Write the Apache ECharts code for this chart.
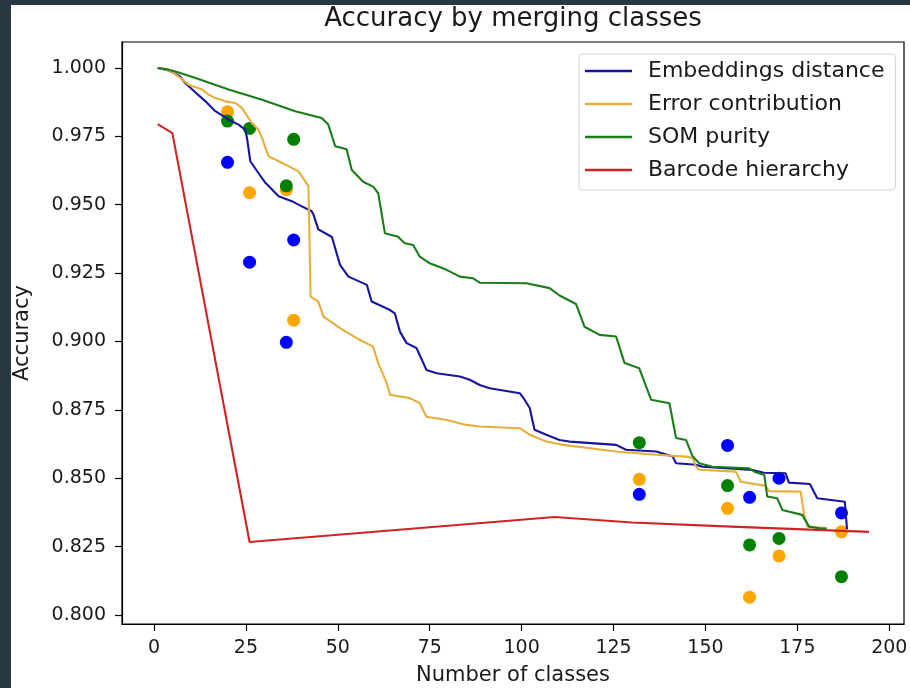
<!DOCTYPE html>
<html>
<head>
<meta charset="utf-8">
<script src="https://cdn.jsdelivr.net/npm/echarts@6/dist/echarts.min.js"></script>
<style>
  html, body { margin: 0; padding: 0; background: #283842; }
  #frame { position: relative; width: 910px; height: 688px; background: #283842; overflow: hidden; }
  #myChart { position: absolute; left: 11px; top: 5px; width: 899px; height: 683px; background: #fff; }
</style>
</head>
<body>
<div id="frame"><div id="myChart"></div></div>
<script>
// tick labels
var xTicks = [0, 25, 50, 75, 100, 125, 150, 175, 200];
var yTicks = [0.8, 0.825, 0.85, 0.875, 0.9, 0.925, 0.95, 0.975, 1.0];

// Embeddings distance (line)
var embedX = [1, 3, 5, 7, 8.5, 10.4, 14, 16.7, 20.3, 23, 24.8, 25.3, 26.2, 28.4, 30.3, 33.9, 37.5, 40.2, 42.9, 43.4, 44.7, 48.4, 50.6, 52.9, 57.9, 59.2, 64.2, 65.5, 66.9, 68.7, 71.4, 74.1, 76.9, 83.2, 85.9, 88.6, 91.3, 99.5, 100.8, 102.2, 103.5, 106.7, 110.3, 113, 125.7, 128.4, 136.6, 141.1, 142, 147.4, 149.2, 162.8, 165.9, 171.8, 172.7, 178.4, 180.4, 187.9, 188.5];
var embedY = [1.0, 0.9995, 0.9985, 0.997, 0.9945, 0.9921, 0.9878, 0.9842, 0.9811, 0.9793, 0.9774, 0.9744, 0.9659, 0.9616, 0.958, 0.9531, 0.9513, 0.9494, 0.9476, 0.9463, 0.941, 0.9382, 0.928, 0.9237, 0.9207, 0.9146, 0.9115, 0.9103, 0.9036, 0.8994, 0.8976, 0.8896, 0.8884, 0.8872, 0.886, 0.8841, 0.8829, 0.8811, 0.8787, 0.8757, 0.8677, 0.8659, 0.864, 0.8634, 0.8622, 0.8604, 0.8598, 0.8579, 0.8555, 0.8549, 0.8542, 0.853, 0.852, 0.8518, 0.8484, 0.8479, 0.8427, 0.8414, 0.8314];

// Error contribution (line)
var errorX = [1, 3, 5, 7, 9.4, 13.1, 14.9, 16.7, 19.4, 22.1, 23.9, 24.8, 26.6, 28.4, 29.4, 30.3, 31.2, 33.9, 36.6, 39.3, 41.1, 42, 42.6, 44.7, 46.1, 50.6, 55.1, 59.6, 61, 63.3, 64.2, 69.6, 72.3, 74.1, 79.6, 85, 88.6, 99.5, 102.2, 106.7, 111.2, 125.7, 136.6, 144.7, 146.5, 147.4, 148.3, 158.3, 159.6, 166.4, 167.3, 175.9, 176.8, 177.7, 183];
var errorY = [1.0, 0.9995, 0.9985, 0.9965, 0.9939, 0.9921, 0.9902, 0.989, 0.9878, 0.9872, 0.9854, 0.9836, 0.9799, 0.9774, 0.9744, 0.9708, 0.9677, 0.9659, 0.9641, 0.9622, 0.9586, 0.9568, 0.9164, 0.9146, 0.9091, 0.9049, 0.9012, 0.8981, 0.8921, 0.8848, 0.8805, 0.8793, 0.8774, 0.8725, 0.8713, 0.8695, 0.8689, 0.8683, 0.8659, 0.8634, 0.8622, 0.8598, 0.8586, 0.8579, 0.8574, 0.8543, 0.8531, 0.8524, 0.8487, 0.8472, 0.8453, 0.8451, 0.8369, 0.8323, 0.8318];

// SOM purity (line)
var somX = [1, 3.5, 6.3, 11.3, 20.3, 29.4, 38.4, 45.6, 47.4, 49.3, 52.4, 53.8, 56.9, 59.6, 61, 62.8, 66.4, 68.2, 70.5, 72.3, 75, 79.6, 83.2, 86.8, 88.6, 101.3, 107.6, 110.3, 114.8, 117.1, 121.2, 125.7, 128, 132, 135.2, 140.2, 142, 144.7, 146.5, 148.3, 151.9, 161.9, 163.3, 166, 166.8, 169.5, 170.9, 176.3, 178.2, 180.9, 183];
var somY = [1.0, 0.9995, 0.9985, 0.9963, 0.9921, 0.9884, 0.9842, 0.9817, 0.9793, 0.9714, 0.9703, 0.9627, 0.9584, 0.9566, 0.9542, 0.9396, 0.9383, 0.9359, 0.9353, 0.931, 0.9286, 0.9262, 0.9237, 0.9231, 0.9215, 0.9213, 0.9195, 0.9168, 0.9137, 0.9054, 0.9024, 0.9018, 0.8921, 0.8902, 0.8787, 0.8774, 0.8647, 0.864, 0.858, 0.8555, 0.8542, 0.8536, 0.8524, 0.8512, 0.8433, 0.8427, 0.8384, 0.8366, 0.8323, 0.8317, 0.8315];

// Barcode hierarchy (line)
var barcodeX = [1, 5, 26, 109, 130, 157, 194.5];
var barcodeY = [0.9795, 0.9762, 0.8267, 0.8358, 0.8338, 0.8323, 0.8304];

// single points per method
var dotClasses = [20, 26, 36, 38, 132, 156, 162, 170, 187];
var embedDots = [0.9655, 0.929, 0.8997, 0.9371, 0.8441, 0.862, 0.843, 0.85, 0.8373];
var errorDots = [0.984, 0.9544, 0.9555, 0.9078, 0.8496, 0.839, 0.8065, 0.8216, 0.8304];
var somDots = [0.9806, 0.9779, 0.9569, 0.9739, 0.863, 0.8473, 0.8256, 0.828, 0.814];

var font = 'DejaVu Sans';
var ink = '#1a1a1a';

function pairs(xs, ys) {
    return xs.map(function (x, i) { return [x, ys[i]]; });
}

function lineSeries(name, xs, ys, color) {
    return {
        name: name,
        type: 'line',
        symbol: 'none',
        z: 3,
        lineStyle: { color: color, width: 2.1 },
        itemStyle: { color: color },
        data: pairs(xs, ys)
    };
}

function dotSeries(name, ys, color) {
    return {
        name: name,
        type: 'scatter',
        symbolSize: 13,
        z: 2,
        itemStyle: { color: color, opacity: 1 },
        data: pairs(dotClasses, ys)
    };
}

var chartDom = document.getElementById('myChart');
var myChart = echarts.init(chartDom);
var option;

option = {
    animation: false,
    backgroundColor: '#fff',
    title: {
        text: 'Accuracy by merging classes',
        left: 502,
        top: -1,
        textAlign: 'center',
        padding: 0,
        textStyle: { fontFamily: font, fontSize: 26, fontWeight: 'normal', color: ink, lineHeight: 30 }
    },
    legend: {
        data: ['Embeddings distance', 'Error contribution', 'SOM purity', 'Barcode hierarchy'],
        orient: 'vertical',
        left: 568,
        top: 49,
        padding: [6, 11, 9, 6],
        icon: 'rect',
        itemWidth: 47,
        itemHeight: 2.5,
        itemGap: 11,
        backgroundColor: 'rgba(255,255,255,0.85)',
        borderColor: '#d4d4d4',
        borderWidth: 1,
        borderRadius: 4,
        textStyle: { fontFamily: font, fontSize: 22, color: ink, lineHeight: 22, padding: [0, 0, 0, 11] }
    },
    grid: {
        left: 111,
        right: 6,
        top: 37,
        bottom: 64,
        outerBoundsMode: 'none',
        show: true,
        borderColor: '#000',
        borderWidth: 1.2
    },
    xAxis: {
        type: 'value',
        min: -8.7,
        max: 204,
        name: 'Number of classes',
        nameLocation: 'middle',
        nameGap: 41,
        nameTextStyle: { fontFamily: font, fontSize: 21, color: ink },
        axisLine: { show: true, onZero: false, lineStyle: { color: '#000', width: 1.2 } },
        axisTick: { show: true, length: 7, customValues: xTicks, lineStyle: { color: '#000', width: 1.2 } },
        axisLabel: { customValues: xTicks, margin: 15, fontFamily: font, fontSize: 19, color: ink },
        splitLine: { show: false }
    },
    yAxis: {
        type: 'value',
        min: 0.7967,
        max: 1.0095,
        name: 'Accuracy',
        nameLocation: 'middle',
        nameGap: 89,
        nameTextStyle: { fontFamily: font, fontSize: 21, color: ink },
        axisLine: { show: true, onZero: false, lineStyle: { color: '#000', width: 1.2 } },
        axisTick: { show: true, length: 7, customValues: yTicks, lineStyle: { color: '#000', width: 1.2 } },
        axisLabel: {
            customValues: yTicks,
            margin: 16,
            fontFamily: font,
            fontSize: 19,
            color: ink,
            formatter: function (v) { return v.toFixed(3); }
        },
        splitLine: { show: false }
    },
    series: [
        dotSeries('Embeddings distance points', embedDots, '#0000ff'),
        dotSeries('Error contribution points', errorDots, '#ffa500'),
        dotSeries('SOM purity points', somDots, '#008000'),
        lineSeries('Embeddings distance', embedX, embedY, '#1515a0'),
        lineSeries('Error contribution', errorX, errorY, '#e8ae3c'),
        lineSeries('SOM purity', somX, somY, '#1a7d1a'),
        lineSeries('Barcode hierarchy', barcodeX, barcodeY, '#cf2424')
    ]
};

option && myChart.setOption(option);
</script>
</body>
</html>
